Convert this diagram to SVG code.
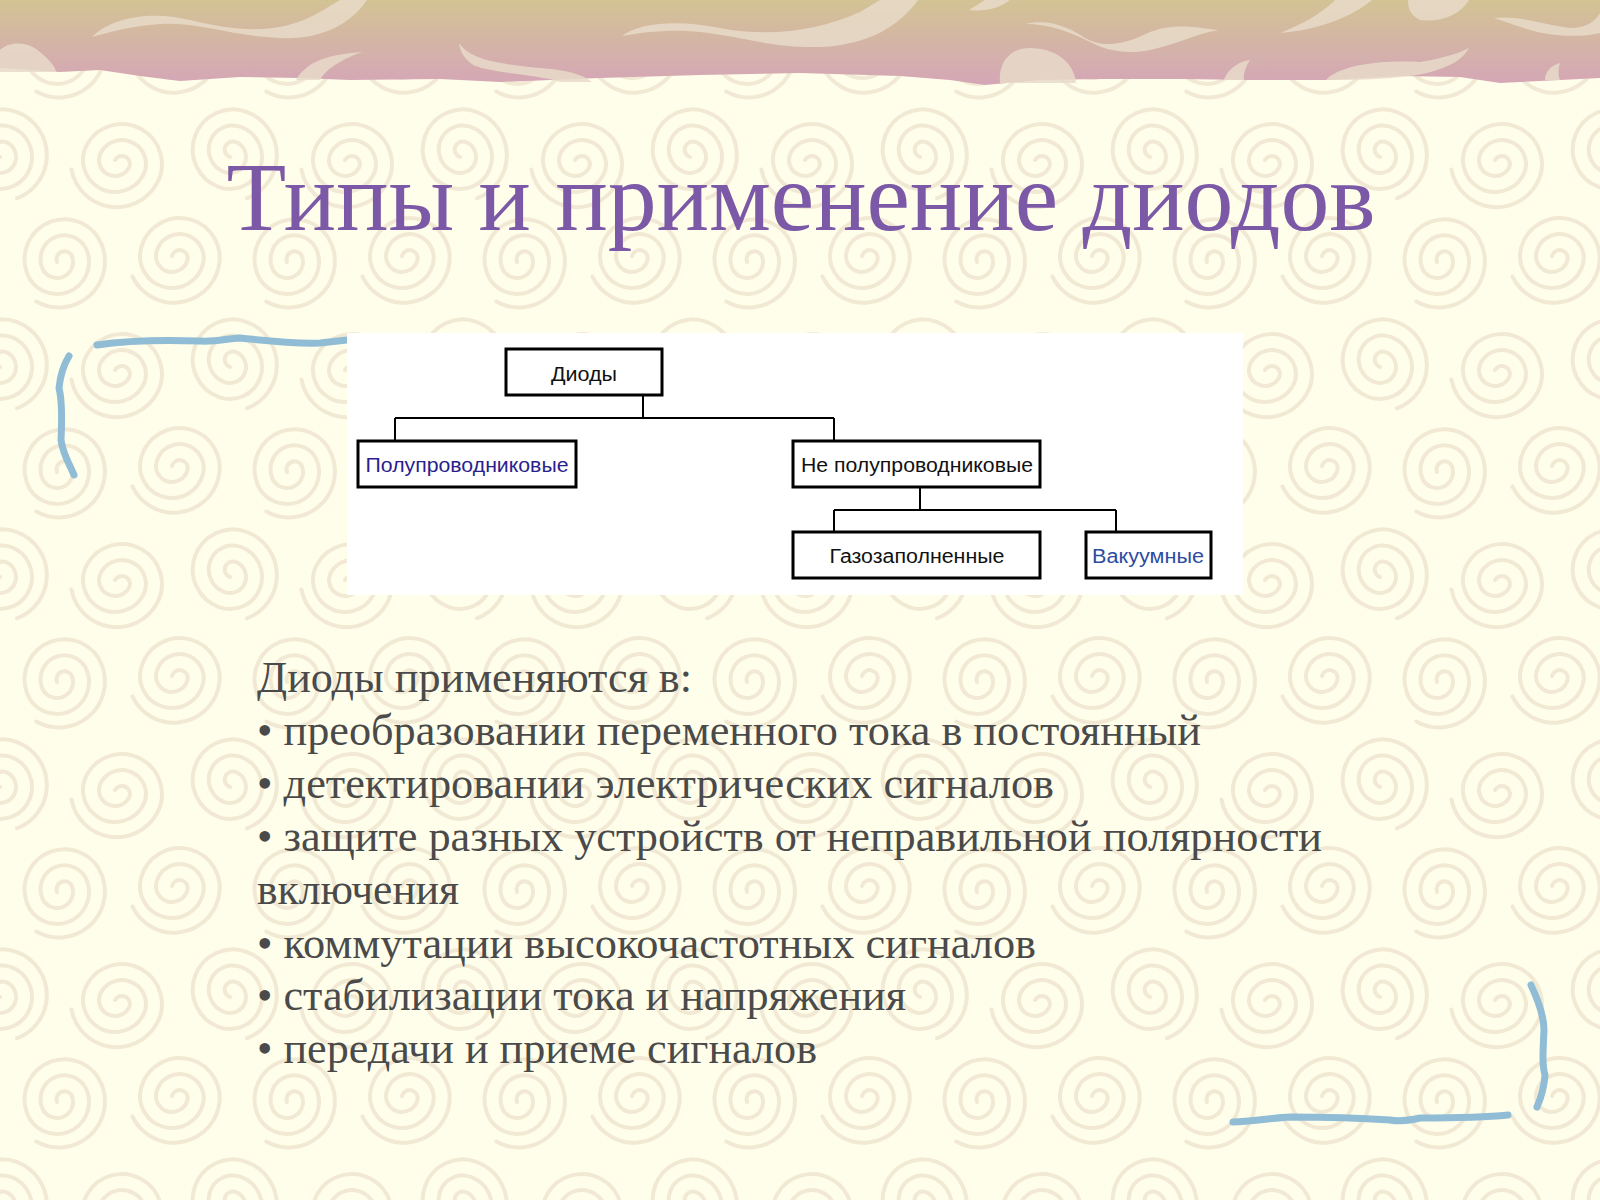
<svg xmlns="http://www.w3.org/2000/svg" width="1600" height="1200" viewBox="0 0 1600 1200">
<style>
  .swirl{fill:none;stroke:#F1E9D3;stroke-width:4;stroke-linecap:round}
  .band-swirl{fill:#E8DAC9;opacity:0.85}
  .blue{fill:none;stroke:#90BDD5;stroke-width:7;stroke-linecap:round;stroke-linejoin:round}
  .title{font-family:"Liberation Serif","Times New Roman",serif;font-size:98px;fill:#7C59A7}
  .body{font-family:"Liberation Serif","Times New Roman",serif;font-size:44px;fill:#4A4A4A}
  .box{fill:#FFFFFF;stroke:#000000;stroke-width:3}
  .lbl{font-family:"Liberation Sans",Arial,sans-serif;font-size:20px;text-anchor:middle;fill:#111111}
  .conn{fill:none;stroke:#000000;stroke-width:2}
</style>
<defs>
  <path id="sp" d="M 0 0 a 8 8 0 0 1 16 0 a 16 16 0 0 1 -32 0 a 24 24 0 0 1 48 0 a 32 32 0 0 1 -64 0 a 40 40 0 0 1 80 0 a 46 46 0 0 1 -81 30"/>
  <pattern id="swirls" x="0" y="0" width="230" height="210" patternUnits="userSpaceOnUse">
    <use href="#sp" class="swirl" transform="translate(57 52) rotate(-20)"/>
    <use href="#sp" class="swirl" transform="translate(172 46) rotate(15)"/>
    <use href="#sp" class="swirl" transform="translate(0 157) rotate(-70)"/>
    <use href="#sp" class="swirl" transform="translate(115 160) rotate(30)"/>
    <use href="#sp" class="swirl" transform="translate(230 157) rotate(-70)"/>
    <use href="#sp" class="swirl" transform="translate(0 -53) rotate(-70)"/>
    <use href="#sp" class="swirl" transform="translate(115 -50) rotate(30)"/>
    <use href="#sp" class="swirl" transform="translate(230 -53) rotate(-70)"/>
    <use href="#sp" class="swirl" transform="translate(287 52) rotate(-20)"/>
    <use href="#sp" class="swirl" transform="translate(-58 46) rotate(15)"/>
    <use href="#sp" class="swirl" transform="translate(57 262) rotate(-20)"/>
    <use href="#sp" class="swirl" transform="translate(172 256) rotate(15)"/>
  </pattern>
  <linearGradient id="band" x1="0" y1="0" x2="0" y2="1">
    <stop offset="0" stop-color="#D3C394"/>
    <stop offset="1" stop-color="#D5A6B7"/>
  </linearGradient>
</defs>

<!-- background -->
<rect x="0" y="0" width="1600" height="1200" fill="#FFFEEA"/>
<rect x="0" y="0" width="1600" height="1200" fill="url(#swirls)"/>

<!-- top band -->
<g id="band-top">
  <path d="M0 0 H1600 V78 L1560 80 L1500 83 L1460 77 L1400 76 L1330 80 L1250 80 L1180 79 L1100 79 L1040 80 L985 85 L950 80 L900 76 L800 73 L700 75 L600 78 L500 82 L440 79 L350 80 L300 78 L240 77 L180 81 L140 76 L100 70 L60 72 L0 68 Z" fill="url(#band)"/>
  <path class="band-swirl" d="M92 37 C110 18 150 10 190 20 C240 32 280 35 320 12 L340 0 L367 0 C350 25 320 40 280 38 C230 36 200 22 160 24 C130 26 110 32 92 37 Z"/>
  <path class="band-swirl" d="M0 72 L0 50 C10 40 30 42 40 52 C50 60 56 68 56 72 Z"/>
  <path class="band-swirl" d="M296 80 C305 65 320 55 362 52 C340 60 325 70 320 80 Z"/>
  <path class="band-swirl" d="M459 43 C470 60 500 64 540 68 C570 70 585 76 592 82 L560 82 C540 75 500 74 475 66 C465 60 460 52 459 43 Z"/>
  <path class="band-swirl" d="M622 36 C640 22 680 20 720 28 C770 38 820 30 860 12 L880 0 L918 0 C900 25 870 45 820 47 C770 48 740 36 700 32 C670 29 645 32 622 36 Z"/>
  <path class="band-swirl" d="M969 10 L985 0 L1010 0 C1000 8 985 12 969 10 Z"/>
  <path class="band-swirl" d="M1025 24 C1050 18 1070 28 1085 38 C1105 50 1130 42 1150 32 C1175 22 1200 28 1219 30 C1195 34 1175 45 1150 50 C1125 55 1105 50 1090 42 C1070 32 1050 24 1025 24 Z"/>
  <path class="band-swirl" d="M1000 83 C998 62 1010 48 1030 48 C1055 48 1074 62 1076 83 Z"/>
  <path class="band-swirl" d="M1224 80 C1226 72 1236 62 1250 60 C1245 68 1243 75 1244 80 Z"/>
  <path class="band-swirl" d="M1280 33 C1300 25 1320 15 1335 0 L1372 0 C1355 15 1320 30 1280 33 Z"/>
  <path class="band-swirl" d="M1408 0 L1469 0 C1460 15 1440 23 1420 20 C1410 15 1408 8 1408 0 Z"/>
  <path class="band-swirl" d="M1326 80 C1340 65 1380 60 1420 62 C1445 58 1462 52 1469 48 C1462 62 1440 72 1410 76 C1380 80 1350 80 1326 80 Z"/>
  <path class="band-swirl" d="M1494 18 C1520 15 1545 25 1570 28 C1585 28 1595 22 1600 13 L1600 33 C1580 38 1550 36 1530 30 C1515 25 1505 22 1494 18 Z"/>
  <path class="band-swirl" d="M1545 80 C1545 72 1550 66 1560 63 C1558 70 1558 76 1560 80 Z"/>
</g>

<!-- title -->
<text class="title" x="801" y="230" text-anchor="middle" textLength="1149" lengthAdjust="spacingAndGlyphs">Типы и применение диодов</text>

<!-- blue brackets -->
<g id="bracket-top-left">
  <path class="blue" d="M97 345 C130 340 170 340 200 341 C215 342 225 339 240 338 C260 340 290 344 320 343 L347 340"/>
  <path class="blue" d="M69 356 C63 366 60 378 59 388 C62 400 62 420 61 440 C63 455 70 465 74 475"/>
</g>
<g id="bracket-bottom-right">
  <path class="blue" d="M1233 1122 C1250 1122 1270 1118 1290 1117 C1330 1117 1360 1118 1390 1120 C1400 1122 1410 1120 1420 1118 C1450 1118 1480 1118 1508 1115"/>
  <path class="blue" d="M1531 985 C1538 1000 1544 1015 1544 1030 C1543 1050 1542 1065 1545 1075 C1544 1090 1540 1100 1537 1107"/>
</g>

<!-- diagram panel -->
<rect id="panel" x="347" y="333" width="896" height="262" fill="#FFFFFF"/>

<g id="connectors">
  <path class="conn" d="M643 395 V418 M395 418 H834 M395 418 V441 M834 418 V441"/>
  <path class="conn" d="M920 487 V510 M834 510 H1116 M834 510 V532 M1116 510 V532"/>
</g>

<g id="node-diody">
  <rect class="box" x="506" y="349" width="156" height="46"/>
  <text class="lbl" x="584" y="381" textLength="66" lengthAdjust="spacingAndGlyphs">Диоды</text>
</g>
<g id="node-semi">
  <rect class="box" x="358" y="441" width="218" height="46"/>
  <text class="lbl" x="467" y="472" textLength="203" lengthAdjust="spacingAndGlyphs" style="fill:#2A1F8C">Полупроводниковые</text>
</g>
<g id="node-nonsemi">
  <rect class="box" x="793" y="441" width="247" height="46"/>
  <text class="lbl" x="917" y="472" textLength="232" lengthAdjust="spacingAndGlyphs">Не полупроводниковые</text>
</g>
<g id="node-gas">
  <rect class="box" x="793" y="532" width="247" height="46"/>
  <text class="lbl" x="917" y="563" textLength="175" lengthAdjust="spacingAndGlyphs">Газозаполненные</text>
</g>
<g id="node-vac">
  <rect class="box" x="1086" y="532" width="125" height="46"/>
  <text class="lbl" x="1148" y="563" textLength="112" lengthAdjust="spacingAndGlyphs" style="fill:#2E4CA0">Вакуумные</text>
</g>

<!-- body text -->
<g id="body-text">
  <text class="body" x="257" y="692" textLength="435" lengthAdjust="spacingAndGlyphs">Диоды применяются в:</text>
  <text class="body" x="257" y="745" textLength="944" lengthAdjust="spacingAndGlyphs">• преобразовании переменного тока в постоянный</text>
  <text class="body" x="257" y="798" textLength="797" lengthAdjust="spacingAndGlyphs">• детектировании электрических сигналов</text>
  <text class="body" x="257" y="851" textLength="1065" lengthAdjust="spacingAndGlyphs">• защите разных устройств от неправильной полярности</text>
  <text class="body" x="257" y="904" textLength="202" lengthAdjust="spacingAndGlyphs">включения</text>
  <text class="body" x="257" y="958" textLength="779" lengthAdjust="spacingAndGlyphs">• коммутации высокочастотных сигналов</text>
  <text class="body" x="257" y="1010" textLength="649" lengthAdjust="spacingAndGlyphs">• стабилизации тока и напряжения</text>
  <text class="body" x="257" y="1063" textLength="560" lengthAdjust="spacingAndGlyphs">• передачи и приеме сигналов</text>
</g>
</svg>
